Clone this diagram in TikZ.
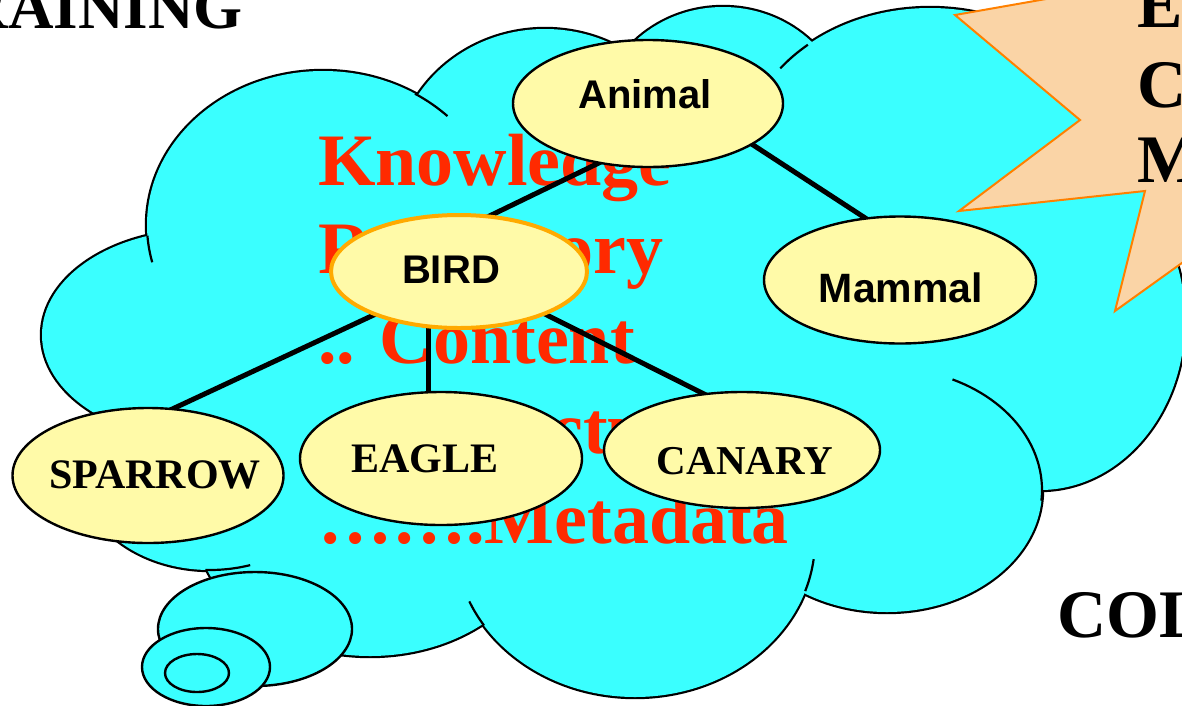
\documentclass[tikz,border=0pt]{standalone}
\usepackage{fontspec}
\setmainfont{Liberation Serif}
\newfontfamily\arialf{Liberation Sans}
\usetikzlibrary{shapes.geometric,calc}
\definecolor{cloudc}{RGB}{58,255,255}
\definecolor{nodey}{RGB}{255,250,168}
\definecolor{redt}{RGB}{255,42,0}
\definecolor{burstf}{RGB}{250,212,166}
\definecolor{bursto}{RGB}{255,128,0}
\definecolor{birdo}{RGB}{255,170,0}
\pgfdeclarelayer{back}
\pgfdeclarelayer{mid}
\pgfsetlayers{back,mid,main}
\begin{document}
\begin{tikzpicture}[x=1pt,y=-1pt,
  oval/.style={ellipse, draw=black, line width=2.4pt, fill=nodey, inner sep=0pt},
  redtxt/.style={text=redt, font=\fontsize{74}{74}\selectfont\bfseries, anchor=base west, inner sep=0pt},
  blk/.style={font=\fontsize{68}{68}\selectfont\bfseries, inner sep=0pt},
  sanslab/.style={font=\arialf\fontsize{40}{40}\selectfont\bfseries, anchor=base, inner sep=0pt},
  serlab/.style={font=\fontsize{42}{42}\selectfont\bfseries, anchor=base, inner sep=0pt},
  link/.style={line width=5pt, black},
  tail/.style={line width=2.2pt, black},
  puff/.style={draw=black, line width=2.4pt, fill=cloudc}
]
\useasboundingbox (0,0) rectangle (1182,705);

\begin{pgfonlayer}{back}
% cloud outline pass
\begin{scope}[line width=4.4pt]
\draw (323,225) ellipse [x radius=176, y radius=154];
\draw (545,170) ellipse [x radius=150, y radius=141];
\draw (723,125) ellipse [x radius=125, y radius=118];
\draw (930,165) ellipse [x radius=190, y radius=157];
\draw (1100,150) ellipse [x radius=90, y radius=100];
\draw (1040,320) ellipse [x radius=145, y radius=170];
\draw (887,490) ellipse [x radius=155, y radius=122];
\draw (635,540) ellipse [x radius=180, y radius=157];
\draw (370,520) ellipse [x radius=175, y radius=136];
\draw (210,470) ellipse [x radius=130, y radius=100];
\draw (200,335) ellipse [x radius=158, y radius=105];
\end{scope}
% cloud fill pass
\begin{scope}[fill=cloudc]
\fill (323,225) ellipse [x radius=176, y radius=154];
\fill (545,170) ellipse [x radius=150, y radius=141];
\fill (723,125) ellipse [x radius=125, y radius=118];
\fill (930,165) ellipse [x radius=190, y radius=157];
\fill (1100,150) ellipse [x radius=90, y radius=100];
\fill (1040,320) ellipse [x radius=145, y radius=170];
\fill (887,490) ellipse [x radius=155, y radius=122];
\fill (635,540) ellipse [x radius=180, y radius=157];
\fill (370,520) ellipse [x radius=175, y radius=136];
\fill (210,470) ellipse [x radius=130, y radius=100];
\fill (200,335) ellipse [x radius=158, y radius=105];
\fill (600,330) ellipse [x radius=400, y radius=220];
\end{scope}
% interior lobe tails
\draw[tail] plot[domain=-58.5:-45, samples=12] ({323+176*cos(\x)},{225+154*sin(\x)});
\draw[tail] plot[domain=166:176, samples=10] ({323+176*cos(\x)},{225+154*sin(\x)});
\draw[tail] plot[domain=218:230, samples=10] ({930+190*cos(\x)},{165+157*sin(\x)});
\draw[tail] plot[domain=-65:5, samples=30] ({887+155*cos(\x)},{490+122*sin(\x)});
\draw[tail] plot[domain=7:19, samples=10] ({635+180*cos(\x)},{540+157*sin(\x)});
\draw[tail] plot[domain=147:157, samples=10] ({635+180*cos(\x)},{540+157*sin(\x)});
\draw[tail] plot[domain=72:92, samples=12] ({210+130*cos(\x)},{470+100*sin(\x)});
% thought puffs
\path[puff] (255,629) ellipse [x radius=97, y radius=57];
\path[puff] (206,667) ellipse [x radius=64, y radius=39];
\draw[line width=2.4pt] (197,673) ellipse [x radius=32, y radius=19];
% red text
\node[redtxt] (k1) at (318,185) {Knowledge};
\node[redtxt] (k2) at (318,273) {Repository};
\node[redtxt] (k3) at (318,363) {.. Content};
\node[redtxt] (k4) at (318,453) {….Structure};
\node[redtxt] (k5) at (318,543) {…….Metadata};
\end{pgfonlayer}

% nodes
\node[oval, minimum width=270pt, minimum height=127pt] (animal) at (648,103.5) {};
\node[oval, draw=birdo, line width=4pt, minimum width=256pt, minimum height=113pt] (bird) at (459,271.5) {};
\node[oval, minimum width=272pt, minimum height=127pt] (mammal) at (900,280) {};
\node[oval, minimum width=271pt, minimum height=135pt] (sparrow) at (148,475.5) {};
\node[oval, minimum width=282pt, minimum height=133pt] (eagle) at (441,458.5) {};
\node[oval, minimum width=276pt, minimum height=116pt] (canary) at (742,450) {};

\node[sanslab] (animalT) at (645,108) {Animal};
\node[sanslab] (birdT) at (451,283) {BIRD};
\node[sanslab, font=\arialf\fontsize{41}{41}\selectfont\bfseries] (mammalT) at (901,302) {Mammal};
\node[serlab] (sparrowT) at (155,488) {SPARROW};
\node[serlab] (eagleT) at (425,472) {EAGLE};
\node[serlab, font=\fontsize{41}{41}\selectfont\bfseries] (canaryT) at (745,474) {CANARY};

% connectors
\begin{pgfonlayer}{mid}
\draw[link] ($(animal.center)+(-42,56)$) -- ($(bird.center)+(15,-48)$);
\draw[link] ($(animal.center)+(89,31)$) -- ($(mammal.center)+(-21,-53)$);
\draw[link] ($(bird.center)+(-50,27)$) -- ($(sparrow.center)+(4,-57)$);
\draw[link] ($(bird.center)+(-31,0)$) -- ($(eagle.center)+(-13,0)$);
\draw[link] ($(bird.center)+(59,29)$) -- ($(canary.center)+(-26,-50)$);
\end{pgfonlayer}

% starburst
\path[draw=bursto, line width=2pt, fill=burstf, line join=miter]
  (955,15) -- (1097,-10) -- (1200,-10) -- (1200,250) -- (1115,311) -- (1145,191)
  -- (959,211) -- (1080,120) -- cycle;

% black texts
\node[blk, anchor=base west] (ea) at (1137,27) {EA};
\node[blk, anchor=base west] (cc) at (1137,107) {C};
\node[blk, anchor=base west] (mm) at (1137,182) {M};
\node[blk, anchor=base west] (col) at (1057,637) {COL};
\node[blk, font=\fontsize{63}{63}\selectfont\bfseries, anchor=base east] (raining) at (243,28) {RAINING};
\end{tikzpicture}
\end{document}
